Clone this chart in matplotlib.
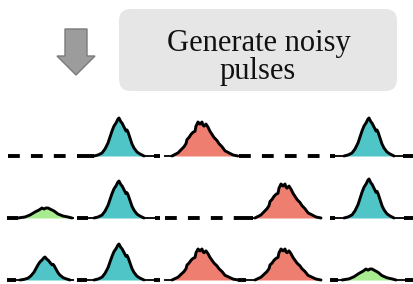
import matplotlib
matplotlib.use("Agg")
import matplotlib.pyplot as plt
from matplotlib.patches import FancyBboxPatch, Polygon
import numpy as np

plt.rcParams['lines.scale_dashes'] = False

# ---------------- data ----------------
title_lines = ["Generate noisy", "pulses"]

# pulse profiles: x offset from peak (px) and height (px)
teal_x = [-25, -21, -17, -14, -11, -9, -7, -5, -3, -2, -1, 0, 1, 2, 3, 5, 7, 8, 9, 11, 13, 15, 18, 21, 25]
teal_h = [0, 1, 3, 7, 13, 19, 25, 30, 33, 35, 37, 38, 36, 34, 33, 29, 25, 26, 24, 18, 12, 8, 4, 2, 0]

salmon_x = [-28, -22, -19, -16, -14, -13, -11, -9, -7, -5, -4, -2, -1, 0, 2, 3, 4, 6, 8, 10, 12, 14, 17, 19, 22, 25, 29, 33, 38]
salmon_h = [0, 3, 6, 9, 12, 16, 18, 21, 23, 24, 29, 33, 32, 31, 33, 30, 29, 31, 28, 24, 21, 18, 15, 12, 9, 5, 3, 1, 0]

green_x = [-27, -20, -15, -10, -6, -3, -1, 1, 3, 5, 9, 13, 18, 23, 27]
green_h = [0, 1, 3, 6, 8, 10, 9, 10, 10, 9, 7, 4, 2, 1, 0]

# grid of pulse kinds (rows x columns); None = no pulse (dashed line)
kinds = [
    [None, "teal", "salmon", None, "teal"],
    ["green", "teal", None, "salmon", "teal"],
    ["teal", "teal", "salmon", "salmon", "green"],
]
# peak amplitude of each pulse (px)
amps = [
    [0, 38, 34, 0, 38],
    [10, 37, 0, 34, 39],
    [23, 36, 31, 31, 11],
]

# ---------------- layout / style ----------------
profiles = {"teal": (teal_x, teal_h), "salmon": (salmon_x, salmon_h), "green": (green_x, green_h)}
colors = {"teal": "#4FC5C8", "salmon": "#EE7E6F", "green": "#A8EC8F"}

col_left = [7, 77, 164, 238, 330]
col_right = [74, 160, 238, 322, 414]
peak_x = [45, 119, 200, 283, 369]
baseline = [156, 218, 280]
thick_left = [[0, 17, 0, 0, 5], [11, 11, 0, 15, 5], [9, 10, 0, 8, 8]]
thick_right = [[0, 6, 0, 0, 11], [0, 5, 0, 0, 10], [0, 6, 0, 0, 9]]

fig = plt.figure(figsize=(4.14, 2.84), dpi=100)
ax = fig.add_axes([0, 0, 1, 1])
ax.set_xlim(0, 414)
ax.set_ylim(284, 0)
ax.axis("off")

# arrow
arrow = Polygon([[65, 29], [87, 29], [87, 56], [95, 56], [76, 75], [57, 56], [65, 56]],
                closed=True, facecolor="#9C9C9C", edgecolor="#7A7A7A", lw=1.0)
ax.add_patch(arrow)

# rounded box
r = 12
box = FancyBboxPatch((119 + r, 9 + r), 278 - 2 * r, 82 - 2 * r,
                     boxstyle=f"round,pad={r},rounding_size={r}",
                     facecolor="#E6E6E6", edgecolor="none")
ax.add_patch(box)
ax.text(259, 51, title_lines[0], ha="center", va="baseline",
        fontfamily="Liberation Serif", fontsize=22, color="#111111")
ax.text(258, 79, title_lines[1], ha="center", va="baseline",
        fontfamily="Liberation Serif", fontsize=22, color="#111111")

for ri in range(3):
    b = baseline[ri]
    for ci in range(5):
        L, R = col_left[ci], col_right[ci]
        k = kinds[ri][ci]
        if k is None:
            ax.plot([L + 1, R], [b, b], color="black", lw=2.8,
                    linestyle=(0, (8.5, 8.0)), solid_capstyle="butt", dash_capstyle="butt")
            continue
        px, ph = profiles[k]
        scale = amps[ri][ci] / max(ph)
        xs = np.array(px, dtype=float) + peak_x[ci]
        ys = b - np.array(ph, dtype=float) * scale
        # thin baseline
        ax.plot([L, xs[0]], [b, b], color="black", lw=1.3, solid_capstyle="butt")
        ax.plot([xs[-1], R], [b, b], color="black", lw=1.3, solid_capstyle="butt")
        # thick end segments
        if thick_left[ri][ci]:
            ax.plot([L, L + thick_left[ri][ci]], [b, b], color="black", lw=2.8, solid_capstyle="butt")
        if thick_right[ri][ci]:
            ax.plot([R - thick_right[ri][ci], R], [b, b], color="black", lw=2.8, solid_capstyle="butt")
        ax.fill_between(xs, b, ys, color=colors[k], lw=0)
        ax.plot(xs, ys, color="black", lw=2.1, solid_joinstyle="round", solid_capstyle="round")

fig.savefig("out.png", dpi=100)
